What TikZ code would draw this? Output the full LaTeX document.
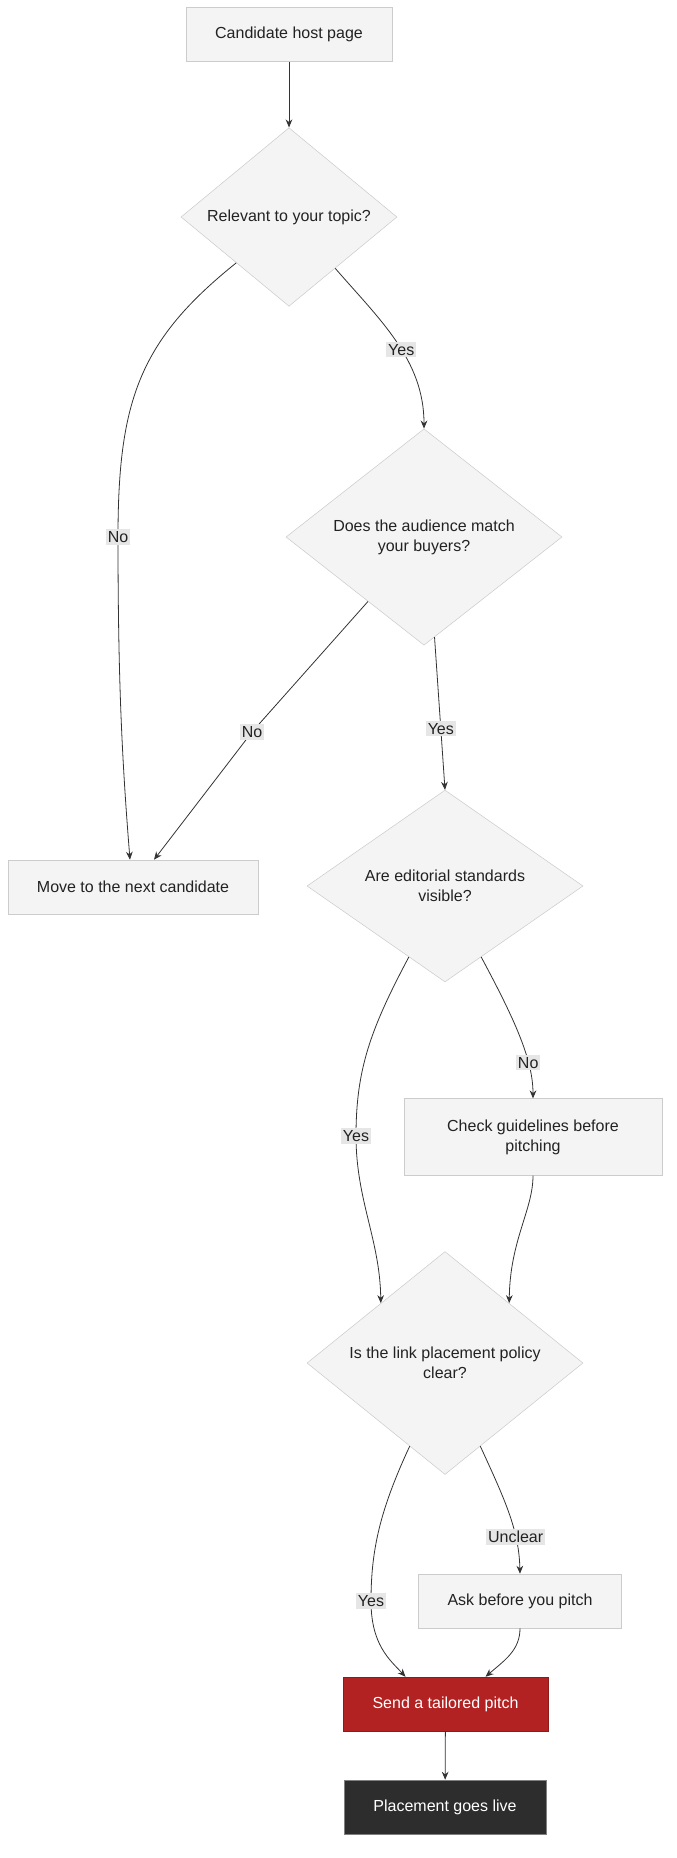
\documentclass[tikz,border=0pt]{standalone}
\usepackage{fontspec}
\setmainfont{Liberation Sans}
\usetikzlibrary{shapes.geometric,arrows.meta,calc}
\definecolor{boxfill}{HTML}{F4F4F4}
\definecolor{boxline}{HTML}{CCCCCC}
\definecolor{txt}{HTML}{222222}
\definecolor{lbl}{HTML}{E6E6E6}
\definecolor{redf}{HTML}{B22222}
\definecolor{darkf}{HTML}{2D2D2D}
\definecolor{edge}{HTML}{333333}
\begin{document}
\begin{tikzpicture}[x=0.75pt,y=-0.75pt,
  font=\fontsize{12}{15}\selectfont,
  box/.style={draw=boxline,fill=boxfill,text=txt,align=center,minimum height=40.5pt,inner sep=0pt},
  dia/.style={diamond,aspect=1,draw=boxline,fill=boxfill,text=txt,align=center,inner sep=0pt},
  lab/.style={fill=lbl,text=txt,inner sep=1.5pt},
  arr/.style={draw=edge,line width=0.6pt,-{Stealth[length=6pt,width=5pt]}}]
\useasboundingbox (0,0) rectangle (677,1858);
\node[box,minimum width=154.5pt] (start) at (289,34.5) {Candidate host page};
\node[dia,minimum width=162pt] (d1) at (289,217) {Relevant to your topic?};
\node[dia,minimum width=207pt] (d2) at (424,537) {Does the audience match\\your buyers?};
\node[box,minimum width=187.5pt] (move) at (133,887) {Move to the next candidate};
\node[dia,minimum width=207pt] (d3) at (445,886) {Are editorial standards\\visible?};
\node[box,minimum width=193.5pt,minimum height=57.5pt] (check) at (533,1137) {Check guidelines before\\pitching};
\node[dia,minimum width=207pt] (d4) at (445,1363) {Is the link placement policy\\clear?};
\node[box,minimum width=152pt] (ask) at (520,1601) {Ask before you pitch};
\node[box,fill=redf,draw=redf!80!black,text=white,minimum width=154pt] (send) at (445.5,1704) {Send a tailored pitch};
\node[box,fill=darkf,draw=gray,text=white,minimum width=151.5pt] (live) at (445,1807) {Placement goes live};

\draw[arr] (start) -- (d1);
\draw[arr] (d1.221) .. controls (140,340) and (118,400) .. (118,537) .. controls (118,680) and (122,760) .. ($(move.north)+(-3,0)$) node[pos=0,lab] {No};
\draw[arr] (d1.-48) .. controls (380,320) and (424,360) .. (d2.north) node[pos=0.55,lab] {Yes};
\draw[arr] (d2.229) -- (252,732) -- ($(move.north)+(21,0)$);
\node[lab] at (252,732) {No};
\draw[arr] (d2.-84) -- (d3.north) node[pos=0.6,lab] {Yes};
\draw[arr] (d3.-63) .. controls (515,1020) and (533,1060) .. (check.north) node[pos=0.7,lab] {No};
\draw[arr] (d3.243) .. controls (370,1030) and (356,1070) .. (356,1136) .. controls (356,1200) and (380,1240) .. (d4.137);
\node[lab] at (356,1136) {Yes};
\draw[arr] (check.south) .. controls (533,1210) and (510,1240) .. (d4.43);
\draw[arr] (d4.-67) .. controls (505,1500) and (519,1530) .. (ask.north) node[pos=0.7,lab] {Unclear};
\draw[arr] (d4.247) .. controls (380,1510) and (371,1550) .. (371,1601) .. controls (371,1645) and (390,1660) .. ($(send.north)+(-40,0)$);
\node[lab] at (371,1601) {Yes};
\draw[arr] (ask.south) .. controls (520,1650) and (505,1660) .. ($(send.north)+(40,0)$);
\draw[arr] (send) -- (live);
\end{tikzpicture}
\end{document}
